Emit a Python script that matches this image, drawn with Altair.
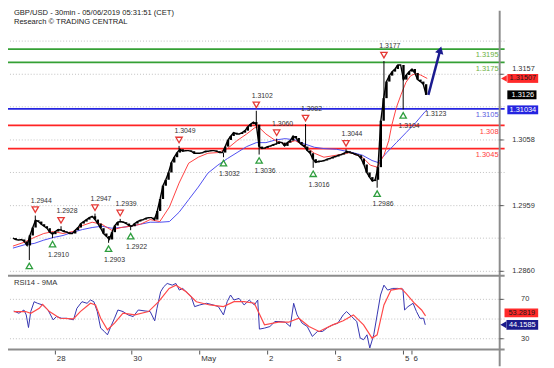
import altair as alt
import pandas as pd

FONT = "Liberation Sans"

# ---------------- price data (hourly closes, h = hours since first bar) ----------------
close = [1.2910, 1.2908, 1.2907, 1.2908, 1.2905, 1.2899, 1.2914, 1.2926, 1.2937, 1.2935,
         1.2931, 1.2928, 1.2925, 1.2919, 1.2916, 1.2920, 1.2923, 1.2922, 1.2920, 1.2919,
         1.2917, 1.2917, 1.2922, 1.2926, 1.2932, 1.2935, 1.2938, 1.2941, 1.2943, 1.2938,
         1.2932, 1.2925, 1.2917, 1.2913, 1.2908, 1.2919, 1.2929, 1.2934, 1.2935, 1.2934,
         1.2932, 1.2929, 1.2928, 1.2932, 1.2935, 1.2937, 1.2938, 1.2940, 1.2941, 1.2941,
         1.2938, 1.2951, 1.2969, 1.2989, 1.2998, 1.3009, 1.3024, 1.3032, 1.3039, 1.3044,
         1.3041, 1.3042, 1.3042, 1.3041, 1.3038, 1.3038, 1.3038, 1.3039, 1.3041, 1.3041,
         1.3042, 1.3042, 1.3041, 1.3039, 1.3039, 1.3048, 1.3058, 1.3064, 1.3069, 1.3067,
         1.3067, 1.3069, 1.3072, 1.3078, 1.3082, 1.3085, 1.3081, 1.3048, 1.3045, 1.3046,
         1.3048, 1.3049, 1.3051, 1.3052, 1.3055, 1.3054, 1.3049, 1.3054, 1.3057, 1.3064,
         1.3061, 1.3055, 1.3051, 1.3048, 1.3042, 1.3038, 1.3029, 1.3024, 1.3026, 1.3026,
         1.3027, 1.3029, 1.3030, 1.3032, 1.3033, 1.3035, 1.3036, 1.3038, 1.3041, 1.3039,
         1.3038, 1.3036, 1.3035, 1.3030, 1.3021, 1.3009, 1.3002, 1.2996, 1.2998, 1.3017,
         1.3087, 1.3121, 1.3146, 1.3155, 1.3161, 1.3165, 1.3171, 1.3171, 1.3149, 1.3156,
         1.3161, 1.3165, 1.3159, 1.3149, 1.3146, 1.3142, 1.3126]
hours = list(range(len(close)))

red_ma_h = [0, 4.1, 7.5, 10.9, 14.3, 17.7, 21.2, 24.6, 28.0, 31.4,
            34.8, 38.2, 41.6, 45.1, 48.5, 51.9, 55.3, 58.7, 62.1, 65.5,
            68.9, 72.4, 75.8, 79.2, 82.6, 85.3, 86.7, 89.4, 92.8, 96.2,
            99.7, 103.1, 106.5, 109.9, 114.3, 119.1, 123.5, 126.3, 128.7, 131.1,
            132.8, 133.8, 135.5, 137.2, 138.9, 140.6, 142.3, 144.0, 146.4]
red_ma_p = [1.2898, 1.2904, 1.2911, 1.2917, 1.2920, 1.2917, 1.2920, 1.2929, 1.2934, 1.2931,
            1.2922, 1.2926, 1.2928, 1.2931, 1.2938, 1.2935, 1.2957, 1.2993, 1.3023, 1.3032,
            1.3038, 1.3039, 1.3045, 1.3057, 1.3067, 1.3076, 1.3078, 1.3067, 1.3057, 1.3052,
            1.3057, 1.3049, 1.3038, 1.3032, 1.3035, 1.3039, 1.3032, 1.3020, 1.3017, 1.3035,
            1.3057, 1.3079, 1.3107, 1.3127, 1.3145, 1.3155, 1.3158, 1.3156, 1.31507]

blue_ma_h = [0, 4.1, 7.5, 10.9, 14.3, 17.7, 21.2, 24.6, 28.0, 31.4,
             34.8, 38.2, 41.6, 45.1, 48.5, 51.9, 55.3, 58.7, 62.1, 65.5,
             68.9, 72.4, 75.8, 79.2, 82.6, 86.0, 89.4, 92.8, 96.2, 99.7,
             103.1, 106.5, 109.9, 114.3, 120.1, 123.5, 126.9, 129.0, 132.1, 135.5,
             138.9, 142.3, 145.7, 146.4]
blue_ma_p = [1.2895, 1.2900, 1.2902, 1.2907, 1.2911, 1.2914, 1.2919, 1.2923, 1.2926, 1.2928,
             1.2925, 1.2926, 1.2928, 1.2931, 1.2934, 1.2934, 1.2935, 1.2949, 1.2968, 1.2987,
             1.3008, 1.3020, 1.3030, 1.3039, 1.3048, 1.3054, 1.3054, 1.3058, 1.3060, 1.3058,
             1.3052, 1.3047, 1.3045, 1.3044, 1.3039, 1.3035, 1.3027, 1.3024, 1.3039, 1.3054,
             1.3069, 1.3084, 1.3101, 1.31034]

# ---------------- RSI ----------------
rsi_h = [0.3, 2.1, 3.9, 4.7, 5.5, 6.3, 7.5, 8.7, 10.5, 12.4,
         14.2, 15.4, 17.2, 19.0, 21.4, 22.6, 24.4, 26.2, 27.4, 28.6,
         29.8, 31.0, 32.3, 33.4, 34.6, 35.9, 37.1, 38.9, 40.7, 42.5,
         44.3, 46.7, 48.5, 50.1, 50.9, 52.2, 53.3, 54.5, 56.3, 57.6,
         58.8, 60.0, 61.8, 63.0, 64.2, 66.0, 68.4, 70.8, 72.6, 74.4,
         75.7, 76.9, 78.1, 79.9, 81.7, 83.5, 85.3, 86.5, 87.1, 88.9,
         90.8, 92.6, 94.4, 96.2, 98.0, 99.2, 100.4, 102.2, 104.0, 105.8,
         107.6, 109.4, 111.2, 113.0, 114.8, 116.7, 117.9, 119.7, 121.5, 122.7,
         123.9, 125.1, 126.1, 127.5, 128.7, 129.9, 131.1, 132.4, 134.2, 136.0,
         137.8, 138.4, 139.6, 141.4, 142.6, 143.8, 145.1, 145.7]
rsi_v = [58.2, 55.9, 59.2, 54.2, 41.4, 57.6, 67.6, 66.0, 64.3, 59.2,
         49.2, 52.5, 50.8, 50.8, 49.2, 60.9, 67.6, 66.0, 69.3, 67.6,
         57.6, 40.8, 37.4, 34.0, 42.4, 50.8, 59.2, 57.6, 54.2, 52.5,
         59.2, 58.2, 57.6, 48.2, 60.9, 77.7, 82.8, 86.1, 84.4, 86.1,
         79.4, 81.1, 76.0, 72.7, 62.6, 64.3, 66.0, 64.3, 62.6, 54.2,
         67.6, 74.4, 69.3, 71.0, 64.3, 69.3, 64.3, 69.3, 39.8, 40.8,
         42.4, 47.5, 47.5, 46.8, 42.4, 66.0, 54.2, 45.8, 42.4, 32.4,
         37.4, 37.4, 41.4, 44.1, 45.8, 54.2, 57.6, 52.5, 47.5, 30.7,
         29.0, 34.0, 20.6, 34.0, 54.2, 74.4, 84.4, 79.4, 81.1, 81.1,
         80.4, 59.2, 62.6, 66.0, 57.6, 50.8, 50.8, 44.16]
rsi_ma_h = [0.3, 4.5, 6.3, 9.3, 10.5, 12.9, 16.6, 21.4, 23.8, 27.4,
            29.2, 31.0, 33.4, 35.9, 38.9, 43.1, 47.9, 51.5, 55.2, 57.6,
            61.2, 64.8, 69.6, 74.4, 78.1, 81.7, 85.3, 88.9, 93.8, 97.4,
            101.0, 104.6, 108.2, 113.0, 116.7, 120.3, 123.9, 126.9, 128.7, 131.1,
            133.6, 137.2, 138.9, 141.9, 144.4, 145.8]
rsi_ma_v = [57.6, 57.6, 55.9, 60.9, 65.0, 57.6, 50.8, 50.2, 57.6, 66.0,
            64.3, 50.8, 39.1, 45.8, 55.9, 54.2, 57.6, 67.6, 81.1, 84.4,
            77.7, 67.6, 64.3, 62.6, 67.6, 67.6, 66.0, 44.1, 46.8, 46.8,
            50.8, 42.4, 37.4, 44.1, 48.2, 54.2, 44.1, 30.7, 34.0, 64.3,
            79.4, 81.1, 76.0, 66.0, 59.2, 53.28]

# ---------------- pivots ----------------
hi_h = [7.9, 17.0, 29.0, 37.9, 58.7, 86.0, 93.2, 103.4, 117.7, 131.1]
hi_p = [1.2944, 1.2928, 1.2947, 1.2939, 1.3049, 1.3102, 1.3060, 1.3082, 1.3044, 1.3177]
hi_lab = ["1.2944", "1.2928", "1.2947", "1.2939", "1.3049", "1.3102", "1.3060", "1.3082", "1.3044", "1.3177"]
lo_h = [5.8, 14.0, 33.8, 41.6, 74.4, 87.0, 106.1, 128.7, 137.9]
lo_p = [1.2877, 1.2910, 1.2903, 1.2922, 1.3032, 1.3036, 1.3016, 1.2986, 1.3104]
lo_lab = ["", "1.2910", "1.2903", "1.2922", "1.3032", "1.3036", "1.3016", "1.2986", "1.3104"]

# ---------------- levels / axes ----------------
levels = [1.3195, 1.3175, 1.3105, 1.308, 1.3045]
level_labels = ["1.3195", "1.3175", "1.3105", "1.308", "1.3045"]
level_colors = ["#35a035", "#35a035", "#2424e0", "#ff2424", "#ff2424"]
level_text_colors = ["#6cb043", "#6cb043", "#5a5ae0", "#ff3b3b", "#ff3b3b"]

price_ticks = [1.3157, 1.3058, 1.2959, 1.2860]
price_tick_labels = ["1.3157", "1.3058", "1.2959", "1.2860"]
price_grid = [1.3207, 1.3157, 1.3108, 1.3058, 1.3009, 1.2959, 1.2910, 1.2860]
rsi_ticks = [70, 30]
rsi_tick_labels = ["70", "30"]
rsi_grid = [70, 50, 30]

day_h = [15, 42, 66, 90, 114, 138, 141]
day_labels = ["28", "30", "May", "2", "3", "5", "6"]

arrow_h = [146.8, 151.0]
arrow_p = [1.3126, 1.31937]
target_h = [145.7]
target_p = [1.3103]
target_lab = ["1.3123"]

box_p = [1.31507, 1.3126, 1.31034]
box_lab = ["1.31507", "1.3126", "1.31034"]
box_bg = ["#ff2a2a", "#000000", "#2424e0"]
box_fg = ["#1a1a1a", "#ffffff", "#ffffff"]
rsi_box_v = [53.2819, 44.1585]
rsi_box_lab = ["53.2819", "44.1585"]
rsi_box_bg = ["#ff2a2a", "#1c1c8c"]
rsi_box_fg = ["#1a1a1a", "#ffffff"]

# ---------------- scales ----------------
XS = alt.Scale(domain=[0, 172], nice=False, zero=False)
PS = alt.Scale(domain=[1.274201, 1.324550], nice=False, zero=False)
RS = alt.Scale(domain=[19, 358], nice=False, zero=False)


def xq(f):
    return alt.X(f + ":Q", scale=XS, axis=None)


def yp(f):
    return alt.Y(f + ":Q", scale=PS, axis=None)


def yr(f):
    return alt.Y(f + ":Q", scale=RS, axis=None)


LABEL_H = 180.4      # right-axis label column
BOX_L, BOX_R = 174.7, 185.6
EDGE_H = 172

layers = []

# grids
layers.append(alt.Chart(pd.DataFrame({"p": price_grid})).mark_rule(
    color="#c0c0c0", strokeDash=[1, 2], strokeWidth=1).encode(y=yp("p")))
layers.append(alt.Chart(pd.DataFrame({"v": rsi_grid})).mark_rule(
    color="#c0c0c0", strokeDash=[1, 2], strokeWidth=1).encode(y=yr("v")))

# level lines
lv = pd.DataFrame({"p": levels, "lab": level_labels, "c": level_colors,
                   "tc": level_text_colors, "h": [171.6] * len(levels)})
layers.append(alt.Chart(lv).mark_rule(strokeWidth=1.8).encode(
    y=yp("p"), color=alt.Color("c:N", scale=None)))
layers.append(alt.Chart(lv).mark_text(align="right", dy=6.5, fontSize=7.6, font=FONT).encode(
    x=xq("h"), y=yp("p"), text="lab:N", color=alt.Color("tc:N", scale=None)))

# moving averages
layers.append(alt.Chart(pd.DataFrame({"h": blue_ma_h, "p": blue_ma_p})).mark_line(
    color="#4d4df0", strokeWidth=1).encode(x=xq("h"), y=yp("p")))
layers.append(alt.Chart(pd.DataFrame({"h": red_ma_h, "p": red_ma_p})).mark_line(
    color="#ff4040", strokeWidth=1).encode(x=xq("h"), y=yp("p")))

# price candles
dfc = pd.DataFrame({"h": hours, "p": close, "o": [close[0]] + close[:-1]})
layers.append(alt.Chart(dfc).mark_line(color="black", strokeWidth=1.4).encode(x=xq("h"), y=yp("p")))
layers.append(alt.Chart(dfc).mark_bar(size=2.4, color="black").encode(
    x=xq("h"), y=yp("o"), y2=alt.Y2("p")))

piv_h = hi_h + lo_h
piv_p = hi_p + lo_p
wick = pd.DataFrame({"h": piv_h, "p": piv_p,
                     "c": [close[int(round(h))] for h in piv_h]})
layers.append(alt.Chart(wick).mark_rule(color="black", strokeWidth=1).encode(
    x=xq("h"), y=yp("p"), y2=alt.Y2("c")))

# pivots
dhi = pd.DataFrame({"h": hi_h, "p": hi_p, "lab": hi_lab})
dlo = pd.DataFrame({"h": lo_h, "p": lo_p, "lab": lo_lab})
layers.append(alt.Chart(dhi).mark_point(shape="triangle-down", filled=True, fill="white",
                                        stroke="#e53935", strokeWidth=1.3, size=42, opacity=1,
                                        yOffset=-6).encode(x=xq("h"), y=yp("p")))
layers.append(alt.Chart(dhi).mark_text(dx=6, dy=-15, fontSize=7, font=FONT, color="#333333").encode(
    x=xq("h"), y=yp("p"), text="lab:N"))
layers.append(alt.Chart(dlo).mark_point(shape="triangle-up", filled=True, fill="white",
                                        stroke="#2e9e3e", strokeWidth=1.3, size=42, opacity=1,
                                        yOffset=6).encode(x=xq("h"), y=yp("p")))
layers.append(alt.Chart(dlo).mark_text(dx=6, dy=17, fontSize=7, font=FONT, color="#333333").encode(
    x=xq("h"), y=yp("p"), text="lab:N"))

layers.append(alt.Chart(pd.DataFrame({"h": target_h, "p": target_p, "lab": target_lab})).mark_text(
    align="left", dy=3.5, fontSize=7, font=FONT, color="#333333").encode(
    x=xq("h"), y=yp("p"), text="lab:N"))

# forecast arrow
da = pd.DataFrame({"h": arrow_h, "p": arrow_p})
layers.append(alt.Chart(da).mark_line(color="#1b1b8f", strokeWidth=2.5).encode(x=xq("h"), y=yp("p")))
layers.append(alt.Chart(da.tail(1)).mark_point(shape="triangle-up", filled=True, color="#1b1b8f",
                                               size=75, angle=16, opacity=1).encode(x=xq("h"), y=yp("p")))

# RSI
layers.append(alt.Chart(pd.DataFrame({"h": rsi_h, "v": rsi_v})).mark_line(
    color="#3434b0", strokeWidth=1).encode(x=xq("h"), y=yr("v")))
layers.append(alt.Chart(pd.DataFrame({"h": rsi_ma_h, "v": rsi_ma_v})).mark_line(
    color="#ff4848", strokeWidth=1.2).encode(x=xq("h"), y=yr("v")))

one = pd.DataFrame({"h": [0.35], "t1": ["GBP/USD - 30min - 05/06/2019 05:31:51 (CET)"],
                    "t2": ["Research \u00a9 TRADING CENTRAL"], "t3": ["RSI14 - 9MA"], "e": [EDGE_H]})
layers.append(alt.Chart(one).mark_text(align="left", fontSize=7.7, font=FONT, color="#222222").encode(
    x=xq("h"), y=alt.value(-2.5), text="t1:N"))
layers.append(alt.Chart(one).mark_text(align="left", fontSize=7.7, font=FONT, color="#222222").encode(
    x=xq("h"), y=alt.value(6.5), text="t2:N"))
layers.append(alt.Chart(one).mark_text(align="left", fontSize=7.7, font=FONT, color="#333333").encode(
    x=xq("h"), y=alt.value(271), text="t3:N"))

# frame
layers.append(alt.Chart(one).mark_rule(color="#8c8c8c", strokeWidth=2).encode(y=alt.value(264)))
layers.append(alt.Chart(one).mark_rule(color="#8c8c8c", strokeWidth=2).encode(y=alt.value(339)))
layers.append(alt.Chart(one).mark_rule(color="#8c8c8c", strokeWidth=2).encode(
    x=xq("e"), y=alt.value(-5), y2=alt.value(356)))

# right axis ticks + labels
dpt = pd.DataFrame({"p": price_ticks, "lab": price_tick_labels, "h": [LABEL_H] * 4,
                    "h1": [EDGE_H] * 4, "h2": [173.4] * 4})
layers.append(alt.Chart(dpt).mark_rule(color="#555555").encode(x=xq("h1"), x2=alt.X2("h2"), y=yp("p")))
# top label sits just above the red value box
layers.append(alt.Chart(dpt.head(1)).mark_text(fontSize=7.5, font=FONT, color="#333333", dy=-5).encode(
    x=xq("h"), y=yp("p"), text="lab:N"))
layers.append(alt.Chart(dpt.tail(3)).mark_text(fontSize=7.5, font=FONT, color="#333333").encode(
    x=xq("h"), y=yp("p"), text="lab:N"))
drt = pd.DataFrame({"v": rsi_ticks, "lab": rsi_tick_labels, "h": [181.0] * 2,
                    "h1": [EDGE_H] * 2, "h2": [173.4] * 2})
layers.append(alt.Chart(drt).mark_rule(color="#555555").encode(x=xq("h1"), x2=alt.X2("h2"), y=yr("v")))
layers.append(alt.Chart(drt).mark_text(fontSize=7.5, font=FONT, color="#333333").encode(
    x=xq("h"), y=yr("v"), text="lab:N"))

# value boxes (main)
dbx = pd.DataFrame({"p": box_p, "lab": box_lab, "bg": box_bg, "fg": box_fg,
                    "x1": [BOX_L] * 3, "x2": [BOX_R, 185.0, BOX_R], "xt": [180.2] * 3})
layers.append(alt.Chart(dbx).mark_rule(strokeWidth=9, strokeCap="butt").encode(
    x=xq("x1"), x2=alt.X2("x2"), y=yp("p"), color=alt.Color("bg:N", scale=None)))
layers.append(alt.Chart(dbx.head(1).assign(xa=[173.5])).mark_point(
    shape="triangle-left", filled=True, color="#ff2a2a", size=45, opacity=1).encode(x=xq("xa"), y=yp("p")))
layers.append(alt.Chart(dbx).mark_text(fontSize=7.5, font=FONT).encode(
    x=xq("xt"), y=yp("p"), text="lab:N", color=alt.Color("fg:N", scale=None)))

# value boxes (RSI)
drb = pd.DataFrame({"v": rsi_box_v, "lab": rsi_box_lab, "bg": rsi_box_bg, "fg": rsi_box_fg,
                    "x1": [173.7, 174.4], "x2": [BOX_R, BOX_R], "xt": [179.8, 180.0]})
red_b = drb.head(1)
blue_b = drb.tail(1).assign(xa=[173.3])
layers.append(alt.Chart(red_b).mark_rule(strokeWidth=9, strokeCap="butt", yOffset=-3).encode(
    x=xq("x1"), x2=alt.X2("x2"), y=yr("v"), color=alt.Color("bg:N", scale=None)))
layers.append(alt.Chart(red_b).mark_text(fontSize=7.5, font=FONT, dy=-3).encode(
    x=xq("xt"), y=yr("v"), text="lab:N", color=alt.Color("fg:N", scale=None)))
layers.append(alt.Chart(blue_b).mark_rule(strokeWidth=10, strokeCap="butt").encode(
    x=xq("x1"), x2=alt.X2("x2"), y=yr("v"), color=alt.Color("bg:N", scale=None)))
layers.append(alt.Chart(blue_b).mark_point(shape="triangle-left", filled=True, color="#1c1c8c",
                                           size=50, opacity=1).encode(x=xq("xa"), y=yr("v")))
layers.append(alt.Chart(blue_b).mark_text(fontSize=7.5, font=FONT).encode(
    x=xq("xt"), y=yr("v"), text="lab:N", color=alt.Color("fg:N", scale=None)))

# x axis (day ticks)
dd = pd.DataFrame({"h": day_h, "lab": day_labels})
layers.append(alt.Chart(dd).mark_rule(color="#555555").encode(
    x=xq("h"), y=alt.value(340), y2=alt.value(344)))
layers.append(alt.Chart(dd).mark_text(align="left", dx=1.5, fontSize=8, font=FONT, color="#333333").encode(
    x=xq("h"), y=alt.value(348.5), text="lab:N"))

chart = alt.layer(*layers).resolve_scale(y="independent").properties(
    width=504, height=339,
    padding={"left": 0, "top": 5, "right": 42, "bottom": 16},
    autosize=alt.AutoSizeParams(type="none"),
).configure_view(strokeWidth=0)

chart.save("out.html", embed_options={"renderer": "svg", "actions": False})
